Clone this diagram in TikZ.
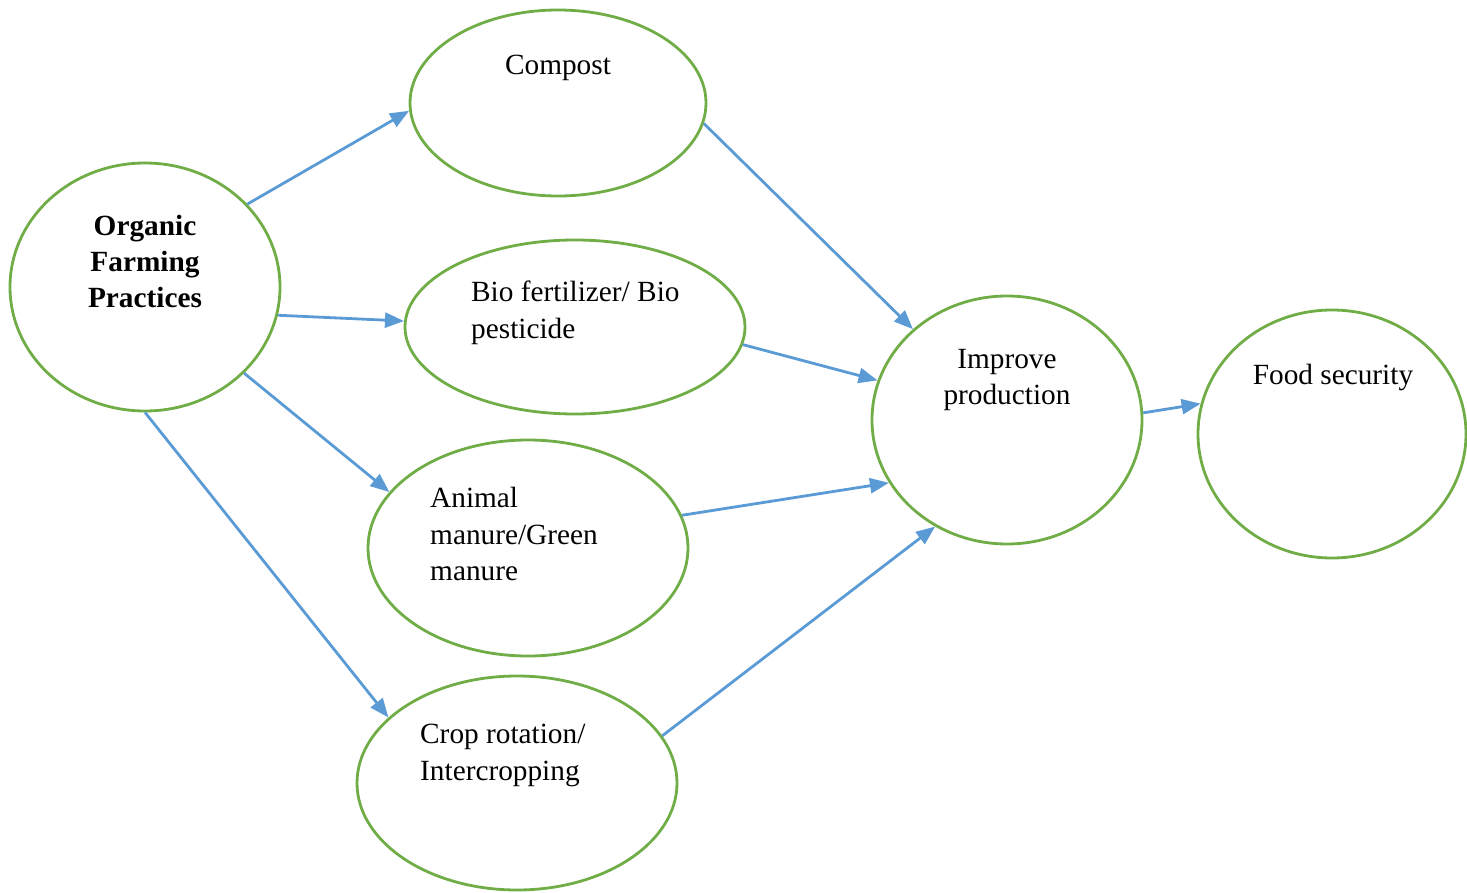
\documentclass[tikz,border=0pt]{standalone}
\usepackage{fontspec}
\setmainfont{Liberation Serif}
\usetikzlibrary{arrows.meta,shapes.geometric}
\definecolor{ogreen}{RGB}{112,173,71}
\definecolor{oblue}{RGB}{91,155,213}
\tikzset{
  oval/.style={draw=ogreen, line width=2.8pt, ellipse, inner sep=0pt},
  txt/.style={font=\fontsize{29.3}{36.5}\selectfont, inner sep=0pt, execute at begin node={\rule{0pt}{30pt}}},
  arr/.style={draw=oblue, line width=2.8pt, -{Triangle[length=19pt,width=15pt]}}
}
\begin{document}
\begin{tikzpicture}[x=1pt,y=-1pt]
\useasboundingbox (0,0) rectangle (1467,893);
% ellipses
\node[oval, minimum width=270pt, minimum height=248pt] (org) at (145,287) {};
\node[oval, minimum width=296pt, minimum height=186pt] (comp) at (558,103) {};
\node[oval, minimum width=340pt, minimum height=174pt] (bio) at (575,327) {};
\node[oval, minimum width=320pt, minimum height=216pt] (anim) at (528,548) {};
\node[oval, minimum width=320pt, minimum height=214pt] (crop) at (517,783) {};
\node[oval, minimum width=270pt, minimum height=248pt] (imp) at (1007,420) {};
\node[oval, minimum width=268pt, minimum height=248pt] (food) at (1332,434) {};
% texts
\node[txt, anchor=north, align=center, font=\fontsize{29.3}{36}\selectfont\bfseries] (orgt) at (145,215) {Organic\\Farming\\Practices};
\node[txt, anchor=north] (compt) at (558,44) {Compost};
\node[txt, anchor=north west, align=left] (biot) at (471,281) {Bio fertilizer/ Bio\\pesticide};
\node[txt, anchor=north west, align=left] (animt) at (430,487) {Animal\\manure/Green\\manure};
\node[txt, anchor=north west, align=left] (cropt) at (420,724) {Crop rotation/\\Intercropping};
\node[txt, anchor=north, align=center] (impt) at (1007,349) {Improve\\production};
\node[txt, anchor=north] (foodt) at (1333,354) {Food security};
% connectors
\draw[arr] (org.39) -- (comp.183);
\draw[arr] (org.-12) -- (bio.178);
\draw[arr] (org.-41) -- (anim.158);
\draw[arr] (org.-90) -- (crop.153);
\draw[arr] (comp.-8) -- (imp.136);
\draw[arr] (bio.-6) -- (imp.163);
\draw[arr] (anim.12) -- (imp.208);
\draw[arr] (crop.18) -- (imp.236);
\draw[arr] (imp.3) -- (food.167);
\end{tikzpicture}
\end{document}
